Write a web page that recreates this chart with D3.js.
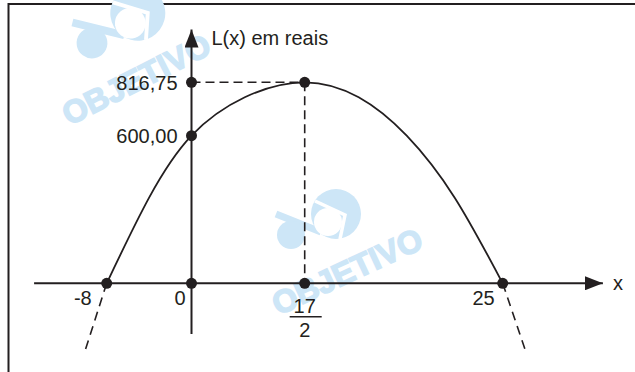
<!DOCTYPE html>
<html>
<head>
<meta charset="utf-8">
<script src="https://cdn.jsdelivr.net/npm/d3@7"></script>
<style>
  html, body { margin: 0; padding: 0; background: #fff; }
  svg { display: block; font-family: "Liberation Sans", Arial, sans-serif; }
  .ink { stroke: #231f20; fill: none; }
  .lbl { fill: #231f20; font-size: 20px; }
  .wm { fill: #cde6f7; }
</style>
</head>
<body>
<script>
// profit curve L(x)
const curveX = [-8, -4, 0, 4, 8.5, 13, 17, 21, 25];
const curveL = [0, 348, 600, 756, 816.75, 756, 600, 348, 0];

// dashed continuation below the x axis
const dashLeftX = [-8, -10.05];
const dashLeftL = [0, -275];
const dashRightX = [25, 26.86];
const dashRightL = [0, -268];

// marked points
const rootX = [-8, 0, 8.5, 25];
const axisL = [600, 816.75];
const vertexX = 8.5;
const vertexL = 816.75;

// labels
const tickValues = [-8, 0, 25];
const tickLabels = ["-8", "0", "25"];
const yLabels = ["600,00", "816,75"];
const fracTop = "17";
const fracBottom = "2";

const W = 635, H = 372;

const svg = d3.select("body").append("svg")
  .attr("width", W)
  .attr("height", H);

// the drawing is not to scale along x, so the scale is piecewise
const x = d3.scaleLinear()
  .domain([-8, 0, 8.5, 25])
  .range([106.7, 191.5, 304.7, 502.7]);

const y = d3.scaleLinear()
  .domain([0, 816.75])
  .range([283.3, 82.3]);

// frame
svg.append("path").attr("class", "ink")
  .attr("stroke-width", 2)
  .attr("d", `M8.5,${H} V4 H${W}`);

// watermark
function logo(cx, cy, rot, s) {
  const g = svg.append("g")
    .attr("transform", `translate(${cx},${cy}) rotate(${rot}) scale(${s})`);
  g.append("line")
    .attr("x1", -15).attr("y1", -21).attr("x2", 30).attr("y2", -3)
    .attr("stroke", "#cde6f7").attr("stroke-width", 7);
  g.append("circle").attr("class", "wm").attr("r", 14);
  g.append("circle").attr("class", "wm").attr("cx", 45).attr("cy", -21).attr("r", 25);
  g.append("circle").attr("cx", 37).attr("cy", -13).attr("r", 14).attr("fill", "#fff");
  g.append("path")
    .attr("d", "M24,-34 L54,-20 L49,4")
    .attr("fill", "none").attr("stroke", "#fff").attr("stroke-width", 3.5);
}

function mark(cx, cy, rot) {
  svg.append("text")
    .attr("class", "wm")
    .attr("transform", `translate(${cx},${cy}) rotate(${rot})`)
    .attr("text-anchor", "middle")
    .attr("dy", "0.36em")
    .attr("font-size", 32)
    .attr("font-weight", "bold")
    .attr("stroke", "#cde6f7")
    .attr("stroke-width", 1.5)
    .text("OBJETIVO");
}

logo(92, 43, -8, 1.1);
mark(136, 79, -27);
logo(291, 235, 0, 1);
mark(347, 271, -25);

// arrow heads
const defs = svg.append("defs");
defs.append("marker")
  .attr("id", "arrow")
  .attr("viewBox", "0 0 18 14")
  .attr("refX", 18).attr("refY", 7)
  .attr("markerWidth", 18).attr("markerHeight", 14)
  .attr("markerUnits", "userSpaceOnUse")
  .attr("orient", "auto")
  .append("path")
  .attr("d", "M0,0 L18,7 L0,14 Z")
  .attr("fill", "#231f20");

// axes
svg.append("line").attr("class", "ink")
  .attr("stroke-width", 2)
  .attr("x1", x(-14.85)).attr("y1", y(0))
  .attr("x2", x(33.35)).attr("y2", y(0))
  .attr("marker-end", "url(#arrow)");

svg.append("line").attr("class", "ink")
  .attr("stroke-width", 2)
  .attr("x1", x(0)).attr("y1", y(-206))
  .attr("x2", x(0)).attr("y2", y(1031))
  .attr("marker-end", "url(#arrow)");

// guide lines to the vertex
svg.append("path").attr("class", "ink")
  .attr("stroke-width", 1.6)
  .attr("stroke-dasharray", "9,5")
  .attr("d", `M${x(0)},${y(vertexL)} H${x(vertexX)}`);
svg.append("path").attr("class", "ink")
  .attr("stroke-width", 1.6)
  .attr("stroke-dasharray", "9,5")
  .attr("d", `M${x(vertexX)},${y(vertexL)} V${y(0)}`);

// curve
const line = d3.line()
  .x((d) => x(d[0]))
  .y((d) => y(d[1]))
  .curve(d3.curveNatural);

svg.append("path").attr("class", "ink")
  .attr("stroke-width", 1.8)
  .attr("d", line(d3.zip(curveX, curveL)));

for (const [xs, ls] of [[dashLeftX, dashLeftL], [dashRightX, dashRightL]]) {
  svg.append("path").attr("class", "ink")
    .attr("stroke-width", 1.6)
    .attr("stroke-dasharray", "9,6")
    .attr("d", d3.line().x((d) => x(d[0])).y((d) => y(d[1]))(d3.zip(xs, ls)));
}

// dots
const dots = rootX.map((v) => [v, 0])
  .concat(axisL.map((v) => [0, v]))
  .concat([[vertexX, vertexL]]);

svg.selectAll("circle.dot")
  .data(dots)
  .join("circle")
  .attr("class", "dot")
  .attr("cx", (d) => x(d[0]))
  .attr("cy", (d) => y(d[1]))
  .attr("r", 5.5)
  .attr("fill", "#231f20");

// text
const tickShift = [-15, -6, -8];
svg.selectAll("text.tick")
  .data(tickValues)
  .join("text")
  .attr("class", "lbl tick")
  .attr("text-anchor", "end")
  .attr("x", (d, i) => x(d) + tickShift[i])
  .attr("y", y(0) + 22)
  .text((d, i) => tickLabels[i]);

svg.selectAll("text.ylbl")
  .data(axisL)
  .join("text")
  .attr("class", "lbl ylbl")
  .attr("text-anchor", "end")
  .attr("x", x(0) - 14)
  .attr("y", (d) => y(d) + 7.5)
  .text((d, i) => yLabels[i]);

svg.append("text").attr("class", "lbl")
  .attr("text-anchor", "middle")
  .attr("x", x(vertexX)).attr("y", y(0) + 29.5)
  .text(fracTop);
svg.append("line").attr("class", "ink")
  .attr("stroke-width", 1.6)
  .attr("x1", x(vertexX) - 15).attr("x2", x(vertexX) + 17)
  .attr("y1", y(0) + 33.5).attr("y2", y(0) + 33.5);
svg.append("text").attr("class", "lbl")
  .attr("text-anchor", "middle")
  .attr("x", x(vertexX)).attr("y", y(0) + 53.5)
  .text(fracBottom);

svg.append("text").attr("class", "lbl")
  .attr("x", x(0) + 20).attr("y", 45)
  .text("L(x) em reais");

svg.append("text").attr("class", "lbl")
  .attr("font-size", 21)
  .attr("x", 613).attr("y", 290)
  .text("x");
</script>
</body>
</html>
